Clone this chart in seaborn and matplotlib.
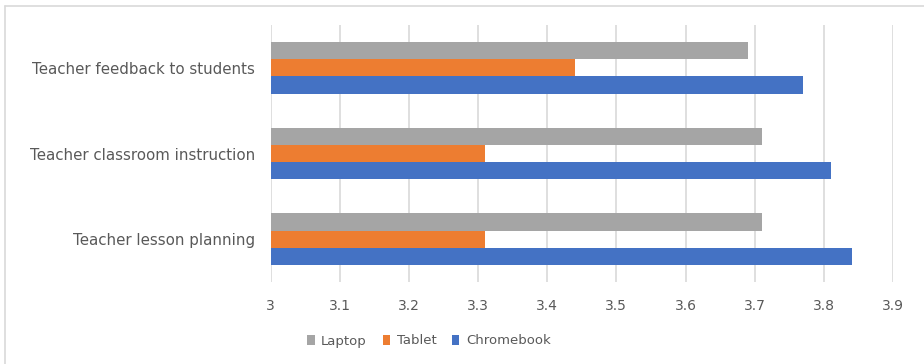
import matplotlib
matplotlib.use("Agg")
import matplotlib.pyplot as plt
import pandas as pd
import seaborn as sns
from matplotlib.patches import Patch

categories = ["Teacher feedback to students", "Teacher classroom instruction", "Teacher lesson planning"]
series = ["Laptop", "Tablet", "Chromebook"]
laptop = [3.69, 3.71, 3.71]
tablet = [3.44, 3.31, 3.31]
chromebook = [3.77, 3.81, 3.84]
x_ticks = [3, 3.1, 3.2, 3.3, 3.4, 3.5, 3.6, 3.7, 3.8, 3.9]
x_tick_labels = ["3", "3.1", "3.2", "3.3", "3.4", "3.5", "3.6", "3.7", "3.8", "3.9"]

colors = {"Laptop": "#A5A5A5", "Tablet": "#ED7D31", "Chromebook": "#4472C4"}
text_color = "#595959"
grid_color = "#D9D9D9"

df = pd.DataFrame({
    "category": categories * 3,
    "device": ["Laptop"] * 3 + ["Tablet"] * 3 + ["Chromebook"] * 3,
    "score": laptop + tablet + chromebook,
})
base = 3.0
df["length"] = df["score"] - base

sns.set_theme(style="white")
plt.rcParams["font.family"] = ["DejaVu Sans"]

fig = plt.figure(figsize=(9.24, 3.64), dpi=100)
ax = fig.add_axes([270.5 / 924, 1 - 282 / 364, (893 - 270.5) / 924, (282 - 25) / 364])

sns.barplot(
    data=df, y="category", x="length", hue="device",
    order=categories, hue_order=series, palette=colors,
    orient="h", width=0.6, dodge=True, ax=ax, legend=False,
    errorbar=None, saturation=1, left=base, linewidth=0,
)

ax.set_xlim(base, 3.9)
ax.set_xticks(x_ticks)
ax.set_xticklabels(x_tick_labels)
ax.set_ylim(2.5, -0.5)
ax.set_xlabel("")
ax.set_ylabel("")
for s in ax.spines.values():
    s.set_visible(False)
ax.set_axisbelow(True)
ax.xaxis.grid(True, color=grid_color, linewidth=1.2)
ax.yaxis.grid(False)
ax.tick_params(axis="x", length=0, pad=12, labelsize=10, labelcolor=text_color)
ax.tick_params(axis="y", length=0, pad=11, labelsize=10.8, labelcolor=text_color)

handles = [Patch(facecolor=colors[s], edgecolor="none", label=s) for s in series]
fig.legend(
    handles=handles, loc="center", bbox_to_anchor=(429 / 924, 1 - 341 / 364),
    ncol=3, frameon=False, fontsize=9.5, labelcolor=text_color,
    handlelength=0.55, handleheight=0.7, handletextpad=0.5, columnspacing=1.2,
)

# chart frame on the top and left edges
fig.add_artist(plt.Line2D([5 / 924, 1], [1 - 6 / 364, 1 - 6 / 364], color=grid_color, linewidth=1.2, transform=fig.transFigure))
fig.add_artist(plt.Line2D([5 / 924, 5 / 924], [0, 1 - 6 / 364], color=grid_color, linewidth=1.2, transform=fig.transFigure))

fig.savefig("out.png", dpi=100, facecolor="white")
